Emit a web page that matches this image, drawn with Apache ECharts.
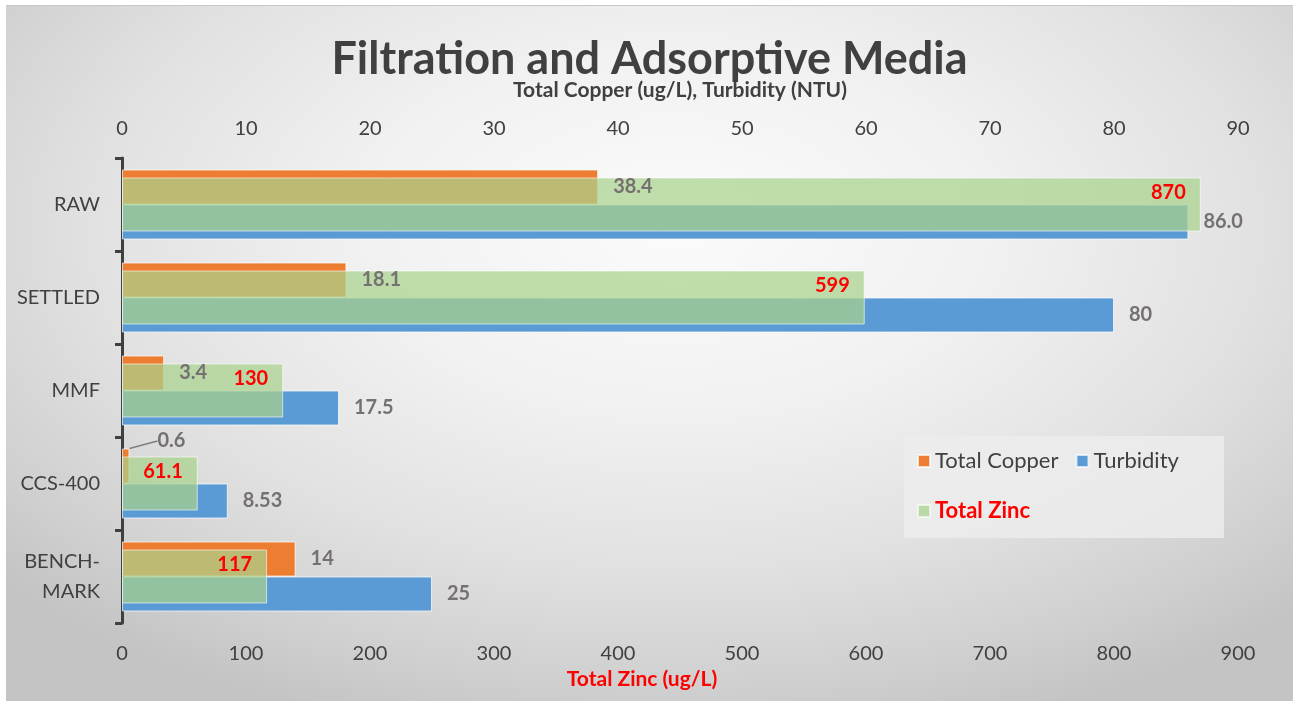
<!DOCTYPE html>
<html>
<head>
<meta charset="utf-8">
<title>Filtration and Adsorptive Media</title>
<script src="https://cdn.jsdelivr.net/npm/echarts@6/dist/echarts.min.js"></script>
<style>
  html, body { margin: 0; padding: 0; background: #ffffff; width: 1297px; height: 701px; overflow: hidden; }
  #frame {
    position: absolute; left: 6px; top: 5px; width: 1287px; height: 696px;
    border-top: 1px solid #c8c8c8;
    background: radial-gradient(ellipse 70% 75% at 52% 32%, #fbfbfb 0%, #f1f1f1 35%, #e1e1e1 65%, #cfcfcf 88%, #c4c4c4 100%);
  }
  #chart { position: absolute; left: 0; top: 0; width: 1287px; height: 696px; }
</style>
</head>
<body>
<div id="frame"><div id="chart"></div></div>
<script>
// Treatment stages, top to bottom
const categories = ['RAW', 'SETTLED', 'MMF', 'CCS-400', 'BENCH-\nMARK'];

// Values as printed on the bars (strings keep their printed precision)
const copperText    = ['38.4', '18.1', '3.4', '0.6', '14'];     // ug/L, top axis
const turbidityText = ['86.0', '80', '17.5', '8.53', '25'];     // NTU, top axis
const zincText      = ['870', '599', '130', '61.1', '117'];     // ug/L, bottom axis

const copper = copperText.map(Number);
const turbidity = turbidityText.map(Number);
const zinc = zincText.map(Number);

// The tiny CCS-400 copper value gets its label lifted with a leader line
const LIFTED = 3;

const FONT = 'Lato, "Open Sans", sans-serif';
const GREY = '#767171';
const DARK = '#404040';

const valueLabel = (texts) => ({
  show: true, position: 'right', distance: 15,
  fontFamily: FONT, fontSize: 20, fontWeight: 'bold', color: GREY,
  formatter: p => texts[p.dataIndex]
});

const chart = echarts.init(document.getElementById('chart'), null, { renderer: 'canvas' });

chart.setOption({
  backgroundColor: 'transparent',
  animation: false,
  textStyle: { fontFamily: FONT },
  title: {
    text: 'Filtration and Adsorptive Media',
    left: 'center',
    top: 26,
    textStyle: { fontFamily: FONT, fontSize: 45, fontWeight: 'bold', color: DARK }
  },
  grid: { left: 116, top: 152, width: 1116, height: 465, containLabel: false },
  xAxis: [
    {
      type: 'value', position: 'top', min: 0, max: 90, interval: 10,
      name: 'Total Copper (ug/L), Turbidity (NTU)',
      nameLocation: 'middle', nameGap: 57,
      nameTextStyle: { fontFamily: FONT, fontSize: 21, fontWeight: 'bold', color: DARK },
      axisLine: { show: false }, axisTick: { show: false }, splitLine: { show: false },
      axisLabel: { fontFamily: FONT, fontSize: 20, color: DARK, margin: 19 }
    },
    {
      type: 'value', position: 'bottom', min: 0, max: 900, interval: 100,
      name: 'Total Zinc (ug/L)',
      nameLocation: 'middle', nameGap: 46,
      nameTextStyle: { fontFamily: FONT, fontSize: 21, fontWeight: 'bold', color: '#ff0000', padding: [0, 76, 0, 0] },
      axisLine: { show: false }, axisTick: { show: false }, splitLine: { show: false },
      axisLabel: { fontFamily: FONT, fontSize: 20, color: DARK, margin: 21 }
    }
  ],
  yAxis: [
    {
      type: 'category', data: categories, inverse: true,
      axisLine: { show: true, lineStyle: { color: DARK, width: 3 } },
      axisTick: { show: true, length: 7, lineStyle: { color: DARK, width: 3 } },
      axisLabel: { fontFamily: FONT, fontSize: 20, color: DARK, margin: 22, lineHeight: 30, align: 'right' },
      splitLine: { show: false }
    },
    // Zinc bars sit on their own band so they overlay the copper/turbidity pair
    { type: 'category', data: categories, inverse: true, show: false },
    // Label layer for copper/turbidity, drawn above the zinc bars
    { type: 'category', data: categories, inverse: true, show: false }
  ],
  legend: [
    {
      left: 911, top: 444, padding: 0, itemWidth: 12, itemHeight: 12, itemGap: 17, itemTextGap: 7,
      icon: 'rect',
      textStyle: { fontFamily: FONT, fontSize: 22, color: DARK },
      data: ['Total Copper', 'Turbidity']
    },
    {
      left: 911, top: 494, padding: 0, itemWidth: 12, itemHeight: 12, itemTextGap: 7,
      icon: 'rect',
      textStyle: { fontFamily: FONT, fontSize: 22, fontWeight: 'bold', color: '#ff0000' },
      data: ['Total Zinc']
    }
  ],
  graphic: [
    {
      type: 'rect', left: 898, top: 430, z: -1,
      shape: { width: 320, height: 102 },
      style: { fill: 'rgba(236,236,236,0.85)' }
    }
  ],
  series: [
    {
      name: 'Total Copper', type: 'bar', xAxisIndex: 0, yAxisIndex: 0,
      data: copper, barWidth: 35, barGap: '0%',
      itemStyle: { color: '#ED7D31', borderColor: 'rgba(255,255,255,0.7)', borderWidth: 1 },
      z: 2
    },
    {
      name: 'Turbidity', type: 'bar', xAxisIndex: 0, yAxisIndex: 0,
      data: turbidity, barWidth: 35, barGap: '0%',
      itemStyle: { color: '#5B9BD5', borderColor: 'rgba(255,255,255,0.7)', borderWidth: 1 },
      z: 2
    },
    {
      name: 'Total Zinc', type: 'bar', xAxisIndex: 1, yAxisIndex: 1,
      data: zinc, barWidth: 54,
      itemStyle: { color: 'rgba(169,209,142,0.72)', borderColor: 'rgba(255,255,255,0.6)', borderWidth: 1 },
      label: {
        show: true, position: 'insideRight', distance: 15, offset: [0, -12],
        fontFamily: FONT, fontSize: 20, fontWeight: 'bold', color: '#ff0000',
        formatter: p => zincText[p.dataIndex]
      },
      z: 3
    },
    // Value labels for copper and turbidity on transparent bars of the same size
    {
      name: 'copper-values', type: 'bar', xAxisIndex: 0, yAxisIndex: 2,
      data: copper.map((v, i) => i === LIFTED ? { value: v, labelLine: { show: true } } : v),
      barWidth: 35, barGap: '0%', silent: true,
      itemStyle: { color: 'transparent' },
      label: valueLabel(copperText),
      labelLayout: p => (p.dataIndex === LIFTED ? { dx: 13, dy: -25 } : {}),
      labelLine: { show: false, lineStyle: { color: '#7f7f7f', width: 1.5 } },
      z: 5
    },
    {
      name: 'turbidity-values', type: 'bar', xAxisIndex: 0, yAxisIndex: 2,
      data: turbidity, barWidth: 35, barGap: '0%', silent: true,
      itemStyle: { color: 'transparent' },
      label: valueLabel(turbidityText),
      z: 5
    }
  ]
});
</script>
</body>
</html>
